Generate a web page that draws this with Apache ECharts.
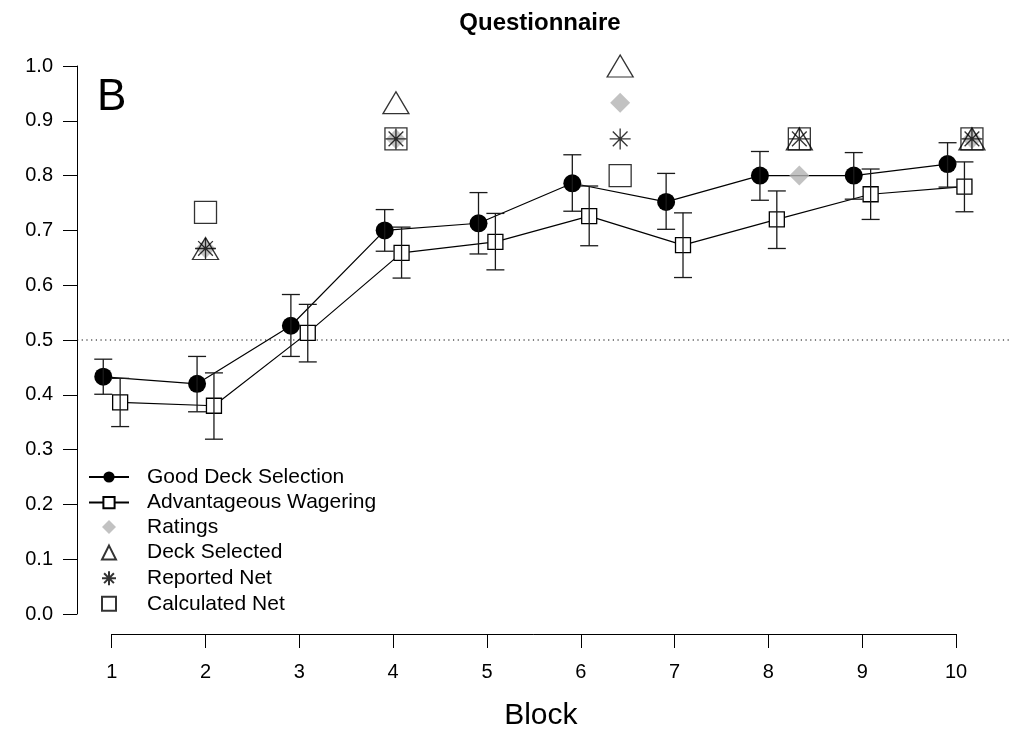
<!DOCTYPE html>
<html>
<head>
<meta charset="utf-8">
<script src="https://cdn.jsdelivr.net/npm/echarts@6/dist/echarts.min.js"></script>
<style>html,body{margin:0;padding:0;background:#fff}#c{width:1011px;height:744px}</style>
</head>
<body>
<div id="c"></div>
<script>
// ---- data ----
const blocks = [1, 2, 3, 4, 5, 6, 7, 8, 9, 10];
const goodDeck   = [0.433, 0.420, 0.526, 0.700, 0.713, 0.786, 0.752, 0.800, 0.800, 0.821];
const goodDeckLo = [0.401, 0.369, 0.470, 0.662, 0.657, 0.735, 0.702, 0.755, 0.757, 0.779];
const goodDeckHi = [0.465, 0.470, 0.583, 0.738, 0.769, 0.838, 0.804, 0.844, 0.842, 0.860];
const advWager   = [0.386, 0.380, 0.513, 0.659, 0.679, 0.726, 0.673, 0.720, 0.766, 0.780];
const advWagerLo = [0.342, 0.319, 0.460, 0.613, 0.628, 0.672, 0.614, 0.667, 0.720, 0.734];
const advWagerHi = [0.430, 0.440, 0.565, 0.706, 0.731, 0.781, 0.732, 0.772, 0.812, 0.825];
const qBlocks       = [2, 4.03, 6.42, 8.33, 10.17];
const ratings       = [0.667, 0.867, 0.933, 0.800, 0.867];
const deckSelected  = [0.667, 0.933, 1.000, 0.867, 0.867];
const reportedNet   = [0.667, 0.867, 0.867, 0.867, 0.867];
const calculatedNet = [0.733, 0.867, 0.800, 0.867, 0.867];
const chance = 0.5;
const chanceSpan = [0.63, 10.6];
const dodge = 0.09;

const FONT = "'Liberation Sans', Arial, Helvetica, sans-serif";
const chart = echarts.init(document.getElementById('c'), null, {renderer: 'canvas'});

const gdPts = blocks.map((b, i) => [b - dodge, goodDeck[i]]);
const awPts = blocks.map((b, i) => [b + dodge, advWager[i]]);
const gdErr = blocks.map((b, i) => [b - dodge, goodDeckLo[i], goodDeckHi[i]]);
const awErr = blocks.map((b, i) => [b + dodge, advWagerLo[i], advWagerHi[i]]);
const q = arr => qBlocks.map((b, i) => [b, arr[i]]);

function errRender(params, api) {
  const x = api.value(0);
  const lo = api.coord([x, api.value(1)]);
  const hi = api.coord([x, api.value(2)]);
  const hw = 9;
  const st = {stroke: '#1a1a1a', lineWidth: 1.3};
  return {type: 'group', children: [
    {type: 'line', shape: {x1: lo[0], y1: lo[1], x2: hi[0], y2: hi[1]}, style: st},
    {type: 'line', shape: {x1: lo[0] - hw, y1: lo[1], x2: lo[0] + hw, y2: lo[1]}, style: st},
    {type: 'line', shape: {x1: hi[0] - hw, y1: hi[1], x2: hi[0] + hw, y2: hi[1]}, style: st}
  ]};
}
function chanceRender(params, api) {
  const a = api.coord([api.value(0), api.value(2)]);
  const b = api.coord([api.value(1), api.value(2)]);
  return {type: 'line', shape: {x1: a[0], y1: a[1], x2: b[0], y2: b[1]},
          style: {stroke: '#000', lineWidth: 1, lineDash: [1.2, 3.5]}};
}

const asterisk = 'path://M10,0L10,20M0,10L20,10M3,3L17,17M3,17L17,3';
const legendText = pad => ({fontFamily: FONT, fontSize: 21, color: '#000', lineHeight: 20, padding: [0, 0, 0, pad]});

chart.setOption({
  animation: false,
  backgroundColor: '#fff',
  textStyle: {fontFamily: FONT},
  title: [
    {text: 'Questionnaire', left: 535, top: 6, textAlign: 'center',
     textStyle: {fontFamily: FONT, fontSize: 24, fontWeight: 'bold', color: '#000'}},
    {text: 'B', left: 92, top: 71,
     textStyle: {fontFamily: FONT, fontSize: 44, fontWeight: 'normal', color: '#000'}}
  ],
  grid: {left: 111.7, width: 844.3, top: 66, height: 548},
  legend: [
    {orient: 'vertical', left: 83, top: 461.5,
     itemWidth: 40, itemHeight: 14, itemGap: 4.6,
     textStyle: legendText(13),
     data: ['Good Deck Selection', 'Advantageous Wagering']},
    {orient: 'vertical', left: 96, top: 511.5,
     itemWidth: 14, itemHeight: 14, itemGap: 4.6,
     textStyle: legendText(26),
     data: ['Ratings', 'Deck Selected', 'Reported Net', 'Calculated Net']}
  ],
  xAxis: {
    type: 'value', min: 1, max: 10, interval: 1, offset: 20,
    name: 'Block', nameLocation: 'middle', nameGap: 67,
    nameTextStyle: {fontFamily: FONT, fontSize: 30, color: '#000', padding: [0, 0, 0, 14]},
    axisLine: {show: true, onZero: false, lineStyle: {color: '#000', width: 1}},
    axisTick: {show: true, length: 14, lineStyle: {color: '#000', width: 1}},
    axisLabel: {fontFamily: FONT, fontSize: 20, color: '#000', margin: 28},
    splitLine: {show: false}
  },
  yAxis: {
    type: 'value', min: 0, max: 1, interval: 0.1, offset: 34.7,
    axisLine: {show: true, onZero: false, lineStyle: {color: '#000', width: 1}},
    axisTick: {show: true, length: 14, lineStyle: {color: '#000', width: 1}},
    axisLabel: {fontFamily: FONT, fontSize: 20, color: '#000', margin: 24,
                formatter: v => v.toFixed(1)},
    splitLine: {show: false}
  },
  series: [
    {name: 'chance', type: 'custom', data: [[chanceSpan[0], chanceSpan[1], chance]],
     renderItem: chanceRender, clip: false, silent: true, z: 1, encode: {x: [0, 1], y: 2}},
    {name: 'Good Deck Selection', type: 'line', data: gdPts, clip: false, z: 3,
     symbol: 'circle', symbolSize: 18,
     itemStyle: {color: '#000'}, lineStyle: {color: '#000', width: 1.2}},
    {name: 'gdErr', type: 'custom', data: gdErr, renderItem: errRender, clip: false, z: 4,
     encode: {x: 0, y: [1, 2]}},
    {name: 'Advantageous Wagering', type: 'line', data: awPts, clip: false, z: 3,
     symbol: 'rect', symbolSize: 15,
     itemStyle: {color: '#fff', borderColor: '#000', borderWidth: 1.3},
     lineStyle: {color: '#000', width: 1.2}},
    {name: 'awErr', type: 'custom', data: awErr, renderItem: errRender, clip: false, z: 4,
     encode: {x: 0, y: [1, 2]}},
    {name: 'Ratings', type: 'scatter', data: q(ratings), clip: false, z: 5,
     symbol: 'diamond', symbolSize: 20, itemStyle: {color: '#b3b3b3'}},
    {name: 'Deck Selected', type: 'scatter', data: q(deckSelected), clip: false, z: 6,
     symbol: 'triangle', symbolSize: [26, 22],
     itemStyle: {color: 'rgba(0,0,0,0)', borderColor: '#000', borderWidth: 1.3}},
    {name: 'Reported Net', type: 'scatter', data: q(reportedNet), clip: false, z: 6,
     symbol: asterisk, symbolSize: 21,
     itemStyle: {color: 'rgba(0,0,0,0)', borderColor: '#000', borderWidth: 1.3}},
    {name: 'Calculated Net', type: 'scatter', data: q(calculatedNet), clip: false, z: 6,
     symbol: 'rect', symbolSize: 22,
     itemStyle: {color: 'rgba(0,0,0,0)', borderColor: '#000', borderWidth: 1.3}}
  ]
});
</script>
</body>
</html>
